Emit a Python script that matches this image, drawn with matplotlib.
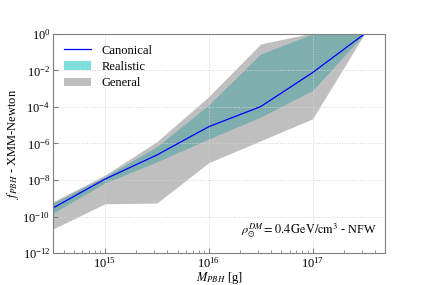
import numpy as np
import matplotlib
matplotlib.use("Agg")
import matplotlib.pyplot as plt

plt.rcParams['font.family'] = ['Liberation Serif', 'DejaVu Serif']
plt.rcParams['mathtext.fontset'] = 'stix'

# PBH masses [g]
mass = [10**14.5, 1e15, 10**15.5, 1e16, 10**16.5, 1e17, 10**17.5]

# log10 of f_PBH bounds
canonical_log = [-9.53, -7.95, -6.63, -5.08, -3.98, -2.12, 0.0]
realistic_hi_log = [-9.26, -7.82, -6.17, -3.89, -1.10, 0.0, 0.0]
realistic_lo_log = [-9.81, -8.16, -7.00, -5.75, -4.55, -3.10, 0.0]
general_hi_log = [-9.19, -7.73, -5.90, -3.43, -0.55, 0.05, 0.0]
general_lo_log = [-10.68, -9.30, -9.26, -7.05, -5.85, -4.65, 0.0]

canonical = 10.0 ** np.array(canonical_log)
realistic_hi = 10.0 ** np.array(realistic_hi_log)
realistic_lo = 10.0 ** np.array(realistic_lo_log)
general_hi = 10.0 ** np.array(general_hi_log)
general_lo = 10.0 ** np.array(general_lo_log)

fig = plt.figure(figsize=(4.28, 2.85), dpi=100)
ax = fig.add_axes([0.124, 0.112, 0.776, 0.769])

ax.fill_between(mass, realistic_lo, realistic_hi, color='c', alpha=0.5, lw=0, label='Realistic')
ax.fill_between(mass, general_lo, general_hi, color='grey', alpha=0.5, lw=0, label='General')
ax.plot(mass, canonical, color='blue', lw=0.9, label='Canonical')

ax.set_xscale('log')
ax.set_yscale('log')
ax.set_xlim(10**14.5, 10**17.7)
ax.set_ylim(1e-12, 1e0)
ax.set_yticks([1e-12, 1e-10, 1e-8, 1e-6, 1e-4, 1e-2, 1e0])
ax.yaxis.set_minor_locator(matplotlib.ticker.NullLocator())

ax.grid(True, which='major', ls=':', color='lightgray', lw=0.7)
ax.tick_params(which='both', direction='in', labelsize=9, color='gray', pad=2)
for s in ax.spines.values():
    s.set_color('gray')

ax.set_xlabel(r'$M_{PBH}$ [g]', fontsize=9, labelpad=0)
ax.set_ylabel(r'$f_{PBH}$ - XMM-Newton', fontsize=9, labelpad=1)

ax.text(0.975, 0.06, r'$\rho_{\odot}^{DM} = 0.4\,\mathrm{GeV}/\mathrm{cm}^3$ - NFW',
        transform=ax.transAxes, ha='right', va='bottom', fontsize=8.8)

handles, labels = ax.get_legend_handles_labels()
order = [2, 0, 1]
ax.legend([handles[i] for i in order], [labels[i] for i in order],
          loc='upper left', frameon=False, fontsize=9, borderaxespad=0.45,
          labelspacing=0.35, handlelength=2.2)

fig.savefig('out.png', dpi=100)
